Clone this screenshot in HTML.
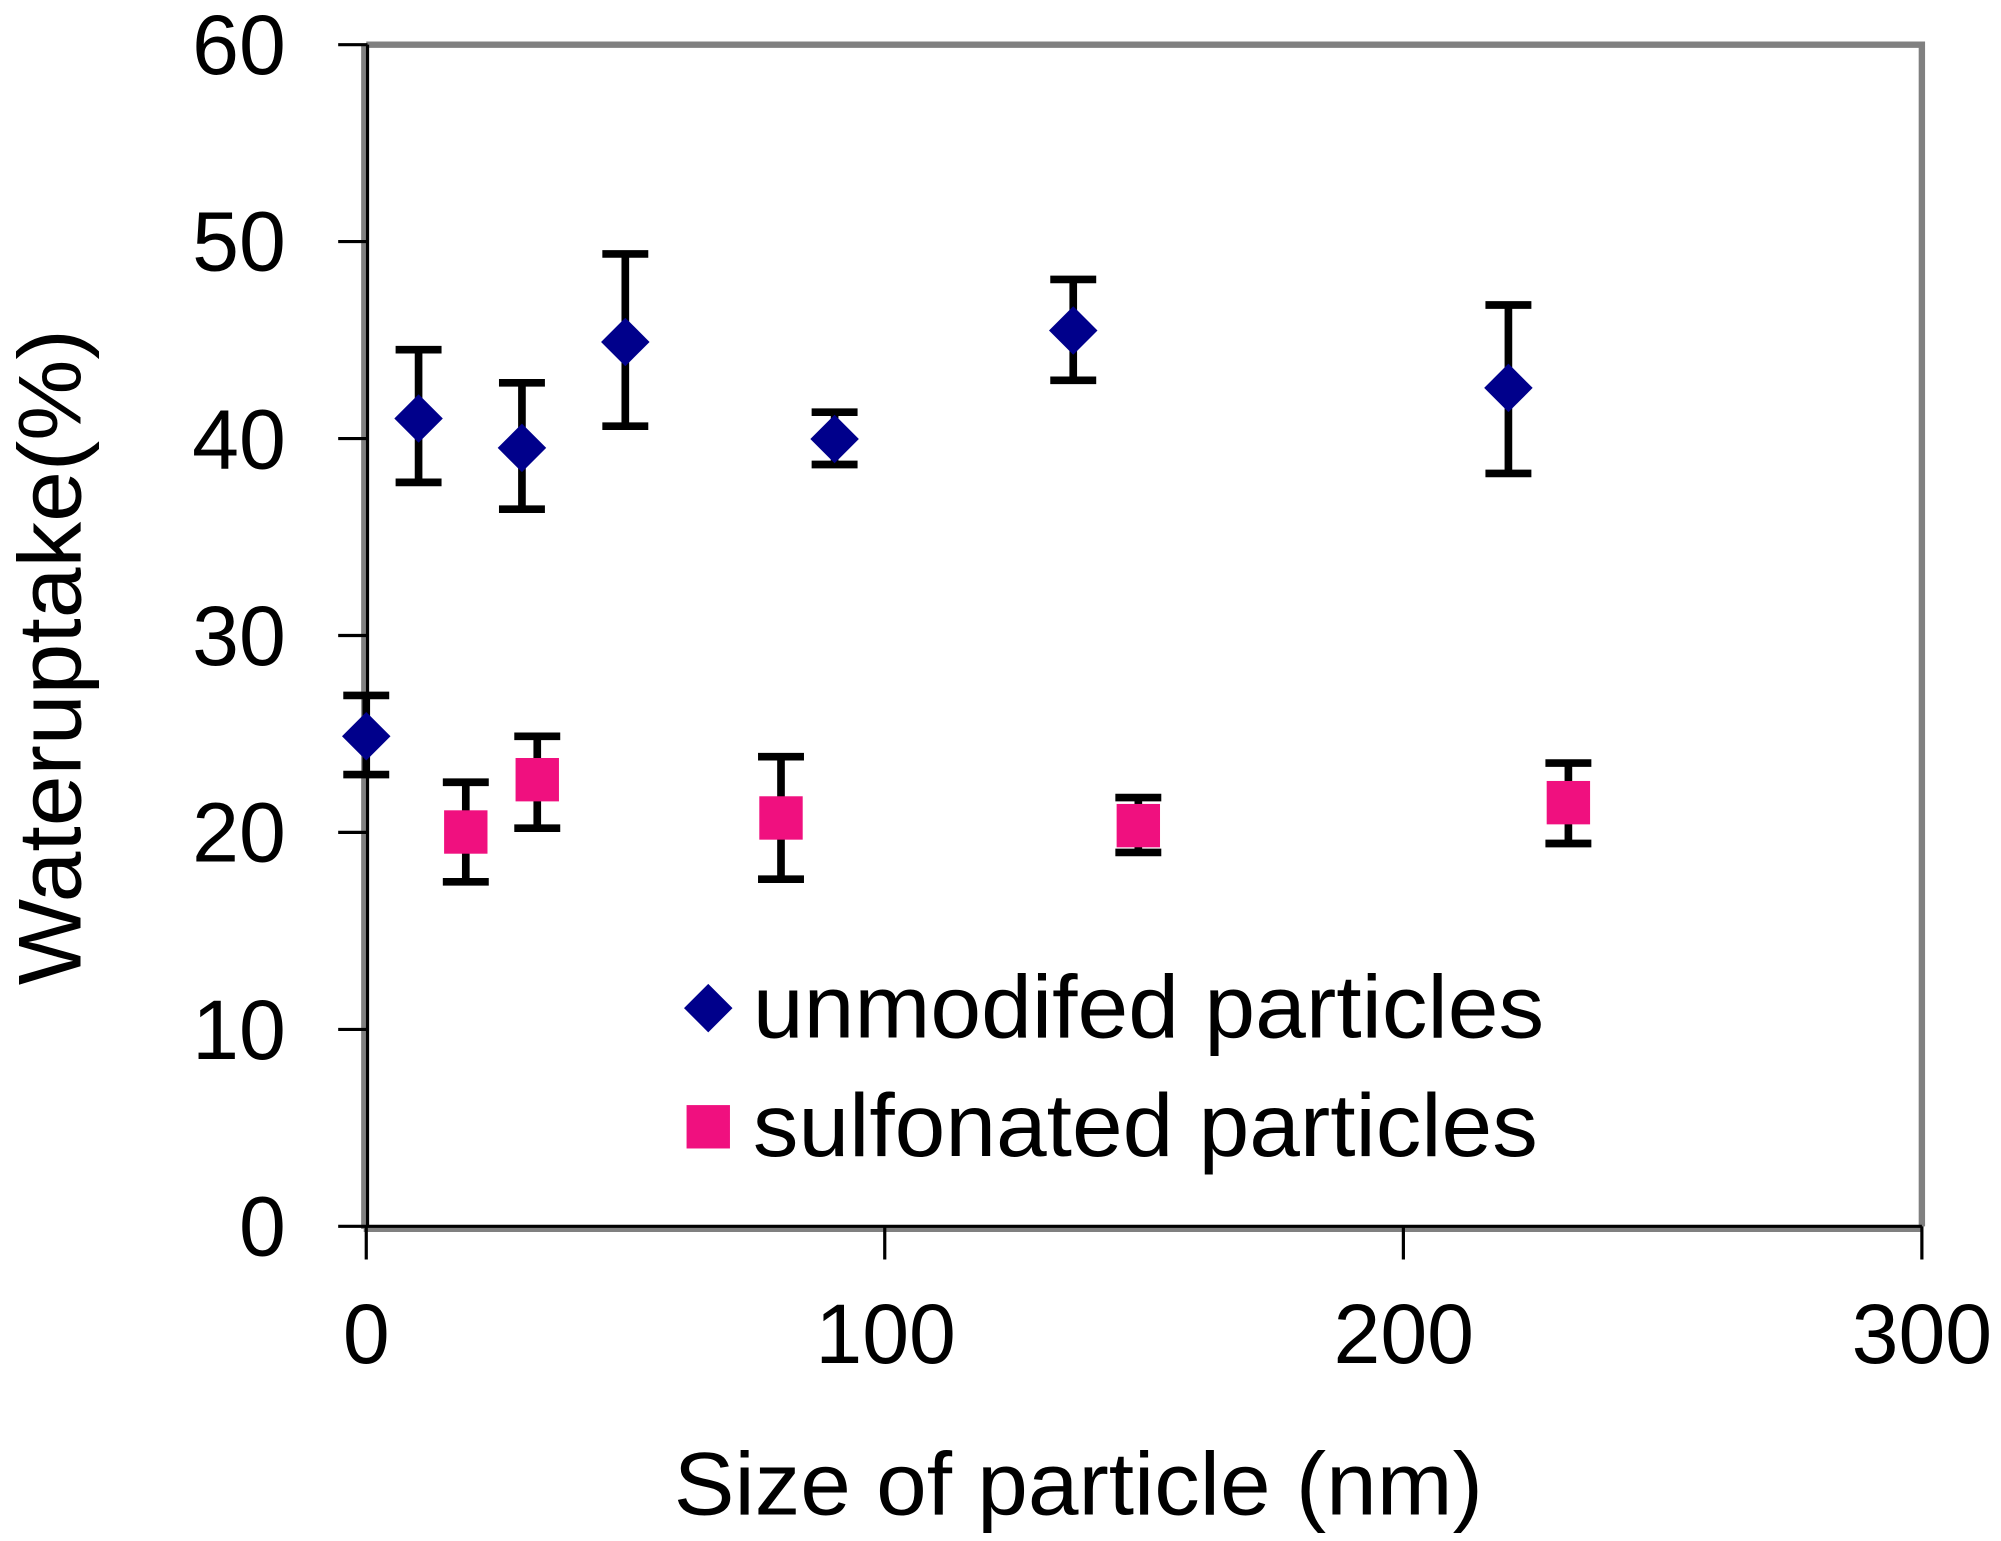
<!DOCTYPE html>
<html><head><meta charset="utf-8"><style>html,body{margin:0;padding:0;background:#fff}svg{display:block}</style></head>
<body>
<svg width="2001" height="1541" viewBox="0 0 1568 1207.6" preserveAspectRatio="none" xmlns="http://www.w3.org/2000/svg" font-family="Liberation Sans, Arial, sans-serif">
<rect width="1568" height="1208" fill="#fff"/>
<polyline points="287,35 1506,35 1506,961" fill="none" stroke="#808080" stroke-width="5"/>
<line x1="286" y1="35" x2="286" y2="963" stroke="#808080" stroke-width="6"/>
<line x1="288" y1="35" x2="288" y2="962" stroke="#000" stroke-width="2.5"/>
<line x1="285" y1="963" x2="1506" y2="963" stroke="#808080" stroke-width="5"/>
<line x1="287" y1="961" x2="1506" y2="961" stroke="#000" stroke-width="2.5"/>
<g stroke="#000" stroke-width="2.5">
<line x1="265" y1="35" x2="288" y2="35"/><line x1="265" y1="189.3" x2="288" y2="189.3"/>
<line x1="265" y1="343.7" x2="288" y2="343.7"/><line x1="265" y1="498" x2="288" y2="498"/>
<line x1="265" y1="652.3" x2="288" y2="652.3"/><line x1="265" y1="806.7" x2="288" y2="806.7"/>
<line x1="265" y1="961" x2="288" y2="961"/>
<line x1="287" y1="961" x2="287" y2="987"/><line x1="693.3" y1="961" x2="693.3" y2="987"/>
<line x1="1099.7" y1="961" x2="1099.7" y2="987"/><line x1="1506" y1="961" x2="1506" y2="987"/>
</g>
<g font-size="66" text-anchor="end" fill="#000">
<text x="224" y="58">60</text><text x="224" y="212">50</text><text x="224" y="367">40</text>
<text x="224" y="521">30</text><text x="224" y="675">20</text><text x="224" y="830">10</text><text x="224" y="984">0</text>
</g>
<g font-size="66" text-anchor="middle" fill="#000">
<text x="287" y="1068">0</text><text x="694" y="1068">100</text><text x="1100" y="1068">200</text><text x="1506" y="1068">300</text>
</g>
<text x="528" y="1187" font-size="70" textLength="634" lengthAdjust="spacingAndGlyphs">Size of particle (nm)</text>
<text transform="translate(63,772) rotate(-90)" font-size="70" textLength="514" lengthAdjust="spacingAndGlyphs">Wateruptake(%)</text>
<g stroke="#000" stroke-width="6" fill="none">
<path d="M287,545V607M269,545H305M269,607H305"/>
<path d="M328,274V378M310,274H346M310,378H346"/>
<path d="M409,300V399M391,300H427M391,399H427"/>
<path d="M490,199V334M472,199H508M472,334H508"/>
<path d="M654,323V364M636,323H672M636,364H672"/>
<path d="M841,219V298M823,219H859M823,298H859"/>
<path d="M1182,239V371M1164,239H1200M1164,371H1200"/>
<path d="M365,613V691M347,613H383M347,691H383"/>
<path d="M421,577V649M403,577H439M403,649H439"/>
<path d="M612,593V689M594,593H630M594,689H630"/>
<path d="M892,625V668M874,625H910M874,668H910"/>
<path d="M1229,598V661M1211,598H1247M1211,661H1247"/>
</g>
<g fill="#00008B">
<path d="M287,558L306,577L287,596L268,577Z"/>
<path d="M328,309L347,328L328,347L309,328Z"/>
<path d="M409,332L428,351L409,370L390,351Z"/>
<path d="M490,249L509,268L490,287L471,268Z"/>
<path d="M654,325L673,344L654,363L635,344Z"/>
<path d="M841,240L860,259L841,278L822,259Z"/>
<path d="M1182,285L1201,304L1182,323L1163,304Z"/>
<path d="M555,771L574,790L555,809L536,790Z"/>
</g>
<g fill="#F0107F">
<rect x="348" y="635" width="34" height="34"/>
<rect x="404" y="594" width="34" height="34"/>
<rect x="595" y="624" width="34" height="34"/>
<rect x="875" y="630" width="34" height="34"/>
<rect x="1212" y="612" width="34" height="34"/>
<rect x="538" y="866" width="34" height="34"/>
</g>
<text x="590" y="813" font-size="70" textLength="620" lengthAdjust="spacingAndGlyphs">unmodifed particles</text>
<text x="590" y="906" font-size="70" textLength="615" lengthAdjust="spacingAndGlyphs">sulfonated particles</text>
</svg>
</body></html>
